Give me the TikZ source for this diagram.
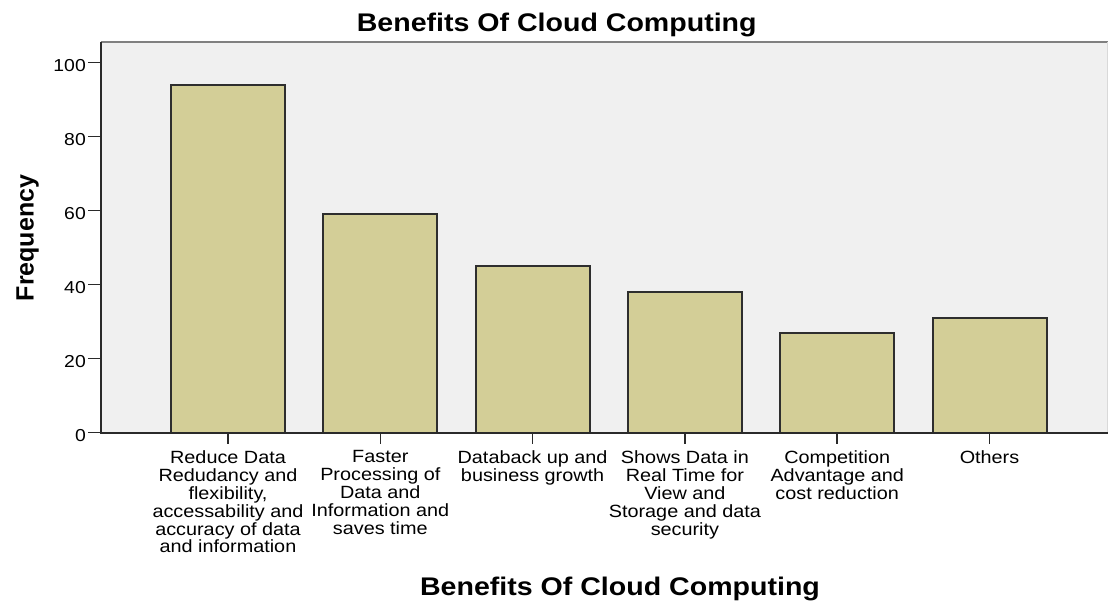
\documentclass[tikz,border=0pt]{standalone}
\usepackage{fontspec}
\setmainfont{Liberation Sans}
\newfontfamily\widefont[FakeStretch=1.12]{Liberation Sans}
\definecolor{plotbg}{HTML}{F0F0F0}
\definecolor{barfill}{HTML}{D3CE97}
\definecolor{bardraw}{HTML}{2E2E2E}
\definecolor{topline}{HTML}{808080}
\definecolor{axiscol}{HTML}{2A2A2A}
\tikzset{
  barbox/.style={fill=barfill, draw=bardraw, line width=2pt},
  axisline/.style={draw=axiscol, line width=2pt},
  tickline/.style={draw=axiscol, line width=1.6pt},
  ticklab/.style={font=\widefont\fontsize{17.3}{17.3}\selectfont, inner sep=0pt, anchor=base east},
  catlab/.style={font=\widefont\fontsize{17.7}{17.9}\selectfont, align=center, inner sep=0pt, anchor=north},
  titlelab/.style={font=\widefont\bfseries\fontsize{25.5}{25.5}\selectfont, inner sep=0pt, anchor=base},
  ylab/.style={font=\bfseries\fontsize{25}{25}\selectfont, inner sep=0pt, anchor=base, rotate=90},
}
\begin{document}
\begin{tikzpicture}[x=1pt,y=-1pt]
\useasboundingbox (0,0) rectangle (1109,602);
% plot area
\fill[plotbg] (100.5,42) rectangle (1108,432.5);
\draw[topline, line width=2.5pt] (100.5,42) -- (1108,42);
\draw[draw=black!15, line width=1pt] (1107.5,42) -- (1107.5,432.5);
% bars
\foreach \i/\cx/\v in {1/228/94, 2/380.3/59, 3/532.6/45, 4/684.9/38, 5/837.2/27, 6/989.5/31}{
  \draw[barbox] (\cx-57,432.5) rectangle (\cx+57,432.5-\v*3.7);
  \coordinate (t\i) at (\cx,432.5);
  \coordinate (tb\i) at (\cx,443.5);
  \draw[tickline] (t\i) -- (tb\i);
}
% axes
\coordinate (o) at (100.5,432.5);
\coordinate (ytop) at (100.5,42);
\coordinate (xend) at (1108,432.5);
\draw[axisline] (ytop) -- (o) -- (xend);
% y ticks
\foreach \v in {0,20,40,60,80,100}{
  \coordinate (ya\v) at (100.5,432.5-\v*3.7);
  \coordinate (yb\v) at (88,432.5-\v*3.7);
  \draw[tickline] (ya\v) -- (yb\v);
  \node[ticklab] (yl\v) at (86,441.7-\v*3.7) {\v};
}
% category labels
\node[catlab] (c1) at (228,450.4) {Reduce Data\\Redudancy and\\flexibility,\\accessability and\\accuracy of data\\and information};
\node[catlab] (c2) at (380.3,450.4) {Faster\\Processing of\\Data and\\Information and\\saves time};
\node[catlab] (c3) at (532.6,450.4) {Databack up and\\business growth};
\node[catlab] (c4) at (684.9,450.4) {Shows Data in\\Real Time for\\View and\\Storage and data\\security};
\node[catlab] (c5) at (837.2,450.4) {Competition\\Advantage and\\cost reduction};
\node[catlab] (c6) at (989.5,450.4) {Others};
% titles
\node[titlelab] (title) at (556.7,31.7) {Benefits Of Cloud Computing};
\node[titlelab] (xtitle) at (620,595) {Benefits Of Cloud Computing};
\node[ylab] (ytitle) at (33.5,238) {Frequency};
\end{tikzpicture}
\end{document}
